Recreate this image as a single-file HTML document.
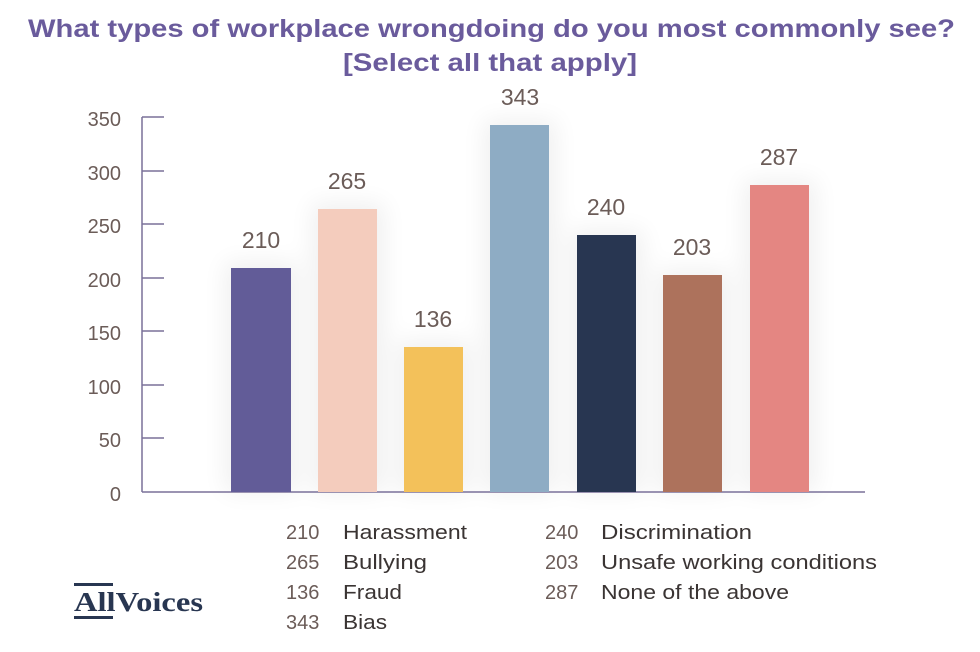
<!DOCTYPE html>
<html><head><meta charset="utf-8"><style>
html,body{margin:0;padding:0;background:#fff;}
svg{display:block;font-family:"Liberation Sans",sans-serif;}
</style></head><body>
<svg width="980" height="652" viewBox="0 0 980 652" xmlns="http://www.w3.org/2000/svg">
<defs><filter id="sh" x="-50%" y="-20%" width="200%" height="140%"><feGaussianBlur stdDeviation="12"/></filter></defs>
<rect width="980" height="652" fill="#fff"/>
<text x="28" y="37" textLength="927" lengthAdjust="spacingAndGlyphs" font-size="25" font-weight="bold" fill="#6a5b9c">What types of workplace wrongdoing do you most commonly see?</text>
<text x="343" y="71" textLength="294" lengthAdjust="spacingAndGlyphs" font-size="25" font-weight="bold" fill="#6a5b9c">[Select all that apply]</text>
<g fill="#000" opacity="0.06" filter="url(#sh)">
<rect x="225" y="262" width="72" height="230"/><rect x="312" y="203" width="72" height="289"/><rect x="398" y="341" width="72" height="151"/><rect x="484" y="120" width="72" height="372"/><rect x="571" y="230" width="72" height="262"/><rect x="657" y="270" width="72" height="222"/><rect x="744" y="180" width="72" height="312"/>
</g>
<g stroke="#7a7199" stroke-width="1.5">
<line x1="142" y1="117" x2="142" y2="492"/>
<line x1="142" y1="492" x2="865" y2="492"/>
<line x1="142" y1="117" x2="164" y2="117"/><line x1="142" y1="171" x2="164" y2="171"/><line x1="142" y1="224" x2="164" y2="224"/><line x1="142" y1="278" x2="164" y2="278"/><line x1="142" y1="331" x2="164" y2="331"/><line x1="142" y1="385" x2="164" y2="385"/><line x1="142" y1="438" x2="164" y2="438"/>
</g>
<g font-size="20" fill="#6b5c58" text-anchor="end">
<text x="121" y="126">350</text><text x="121" y="180">300</text><text x="121" y="233">250</text><text x="121" y="287">200</text><text x="121" y="340">150</text><text x="121" y="394">100</text><text x="121" y="447">50</text><text x="121" y="501">0</text>
</g>
<rect x="231" y="268" width="60" height="224" fill="#625c98"/>
<rect x="318" y="209" width="59" height="283" fill="#f4ccbd"/>
<rect x="404" y="347" width="59" height="145" fill="#f3c15a"/>
<rect x="490" y="125" width="59" height="367" fill="#8eacc4"/>
<rect x="577" y="235" width="59" height="257" fill="#283651"/>
<rect x="663" y="275" width="59" height="217" fill="#ad725c"/>
<rect x="750" y="185" width="59" height="307" fill="#e48682"/>
<g font-size="23" fill="#6b5c58" text-anchor="middle">
<text x="261" y="248">210</text><text x="347" y="189">265</text><text x="433" y="327">136</text><text x="520" y="105">343</text><text x="606" y="215">240</text><text x="692" y="255">203</text><text x="779" y="165">287</text>
</g>
<g font-size="20" lengthAdjust="spacingAndGlyphs">
<g fill="#6b5c58"><text x="286" y="539">210</text><text x="286" y="569">265</text><text x="286" y="599">136</text><text x="286" y="629">343</text>
<text x="545" y="539">240</text><text x="545" y="569">203</text><text x="545" y="599">287</text></g>
<g fill="#3a3433"><text x="343" y="539" textLength="124" lengthAdjust="spacingAndGlyphs">Harassment</text><text x="343" y="569" textLength="84" lengthAdjust="spacingAndGlyphs">Bullying</text><text x="343" y="599" textLength="59" lengthAdjust="spacingAndGlyphs">Fraud</text><text x="343" y="629" textLength="44" lengthAdjust="spacingAndGlyphs">Bias</text>
<text x="601" y="539" textLength="151" lengthAdjust="spacingAndGlyphs">Discrimination</text><text x="601" y="569" textLength="276" lengthAdjust="spacingAndGlyphs">Unsafe working conditions</text><text x="601" y="599" textLength="188" lengthAdjust="spacingAndGlyphs">None of the above</text></g>
</g>
<rect x="74" y="583" width="39" height="3" fill="#283651"/>
<rect x="74" y="616" width="39" height="3" fill="#283651"/>
<text x="74" y="611" textLength="129" lengthAdjust="spacingAndGlyphs" font-family="Liberation Serif,serif" font-weight="bold" font-size="27" fill="#283651">AllVoices</text>
</svg>
</body></html>
